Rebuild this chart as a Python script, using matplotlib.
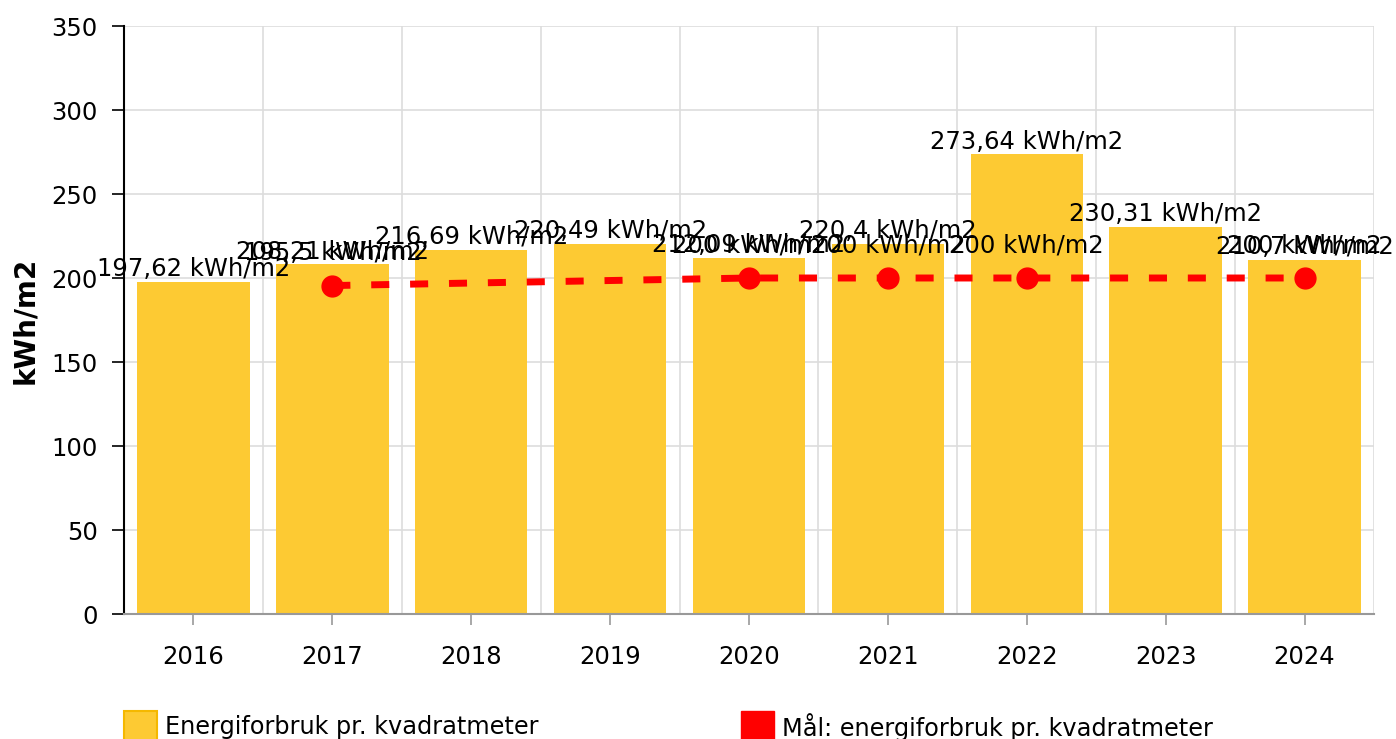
import matplotlib
matplotlib.use("Agg")
import matplotlib.pyplot as plt
import matplotlib.patches as mpatches
import numpy as np

# Data
years = ["2016", "2017", "2018", "2019", "2020", "2021", "2022", "2023", "2024"]
forbruk = [197.62, 208.21, 216.69, 220.49, 212.09, 220.4, 273.64, 230.31, 210.7]
forbruk_txt = ["197,62", "208,21", "216,69", "220,49", "212,09", "220,4", "273,64", "230,31", "210,7"]
maal_years = ["2017", "2020", "2021", "2022", "2024"]
maal = [195.5, 200, 200, 200, 200]
maal_txt = ["195,5", "200", "200", "200", "200"]

GUL = "#fdca33"
ROD = "#ff0000"
FS = 17.5

plt.rcParams["font.family"] = ["DejaVu Sans"]

fig = plt.figure(figsize=(13.96, 7.39), dpi=100)
ax = fig.add_axes([124 / 1396, 1 - 614 / 739, (1374 - 124) / 1396, (614 - 26) / 739])

x = np.arange(len(years))
ax.bar(x, forbruk, width=0.81, color=GUL, zorder=2)

mx = [years.index(y) for y in maal_years]
ax.plot(mx, maal, color=ROD, linestyle=(0, (2.6, 3.0)), linewidth=5, zorder=3)
ax.plot(mx, maal, "o", color=ROD, markersize=15, zorder=4)

# Etiketter
for xi, v, t in zip(x, forbruk, forbruk_txt):
    ax.annotate(f"{t} kWh/m2", (xi, v), xytext=(0, 0.5), textcoords="offset points",
                ha="center", va="bottom", fontsize=FS, zorder=5)
for xi, v, t in zip(mx, maal, maal_txt):
    ax.annotate(f"{t} kWh/m2", (xi, v), xytext=(0, 14.5), textcoords="offset points",
                ha="center", va="bottom", fontsize=FS, zorder=5)

ax.set_xlim(-0.5, len(years) - 0.5)
ax.set_ylim(0, 350)
ax.set_yticks(range(0, 351, 50))
ax.set_xticks(x)
ax.set_xticklabels(years)
ax.tick_params(axis="y", labelsize=FS, length=9, width=1.2, color="black", pad=10)
ax.tick_params(axis="x", labelsize=FS, length=8, width=1.2, color="#999999", pad=14)

# Rutenett
ax.set_xticks(np.arange(0.5, len(years), 1), minor=True)
ax.tick_params(axis="x", which="minor", length=0)
ax.grid(True, which="minor", axis="x", color="#dddddd", linewidth=1.2, zorder=0)
ax.grid(True, which="major", axis="y", color="#dddddd", linewidth=1.2, zorder=0)
ax.set_axisbelow(True)

for s in ["top", "right"]:
    ax.spines[s].set_visible(False)
ax.spines["left"].set_color("black")
ax.spines["left"].set_linewidth(1.5)
ax.spines["bottom"].set_color("#999999")
ax.spines["bottom"].set_linewidth(1.5)

ax.set_ylabel("kWh/m2", fontsize=20, fontweight="bold")
ax.yaxis.set_label_coords(-85 / 1250, 0.5)

# Forklaring
W, H = 1396, 739
fig.add_artist(mpatches.Rectangle((124 / W, 1 - 745 / H), 33 / W, 34 / H,
                                  facecolor=GUL, edgecolor="#f5b800", linewidth=1.5,
                                  transform=fig.transFigure))
fig.text(165 / W, 1 - 727 / H, "Energiforbruk pr. kvadratmeter", fontsize=17.3, va="center")
fig.add_artist(mpatches.Rectangle((741 / W, 1 - 745 / H), 33 / W, 34 / H,
                                  facecolor=ROD, edgecolor=ROD,
                                  transform=fig.transFigure))
fig.text(782 / W, 1 - 727 / H, "Mål: energiforbruk pr. kvadratmeter", fontsize=17.3, va="center")

fig.savefig("out.png", dpi=100)
